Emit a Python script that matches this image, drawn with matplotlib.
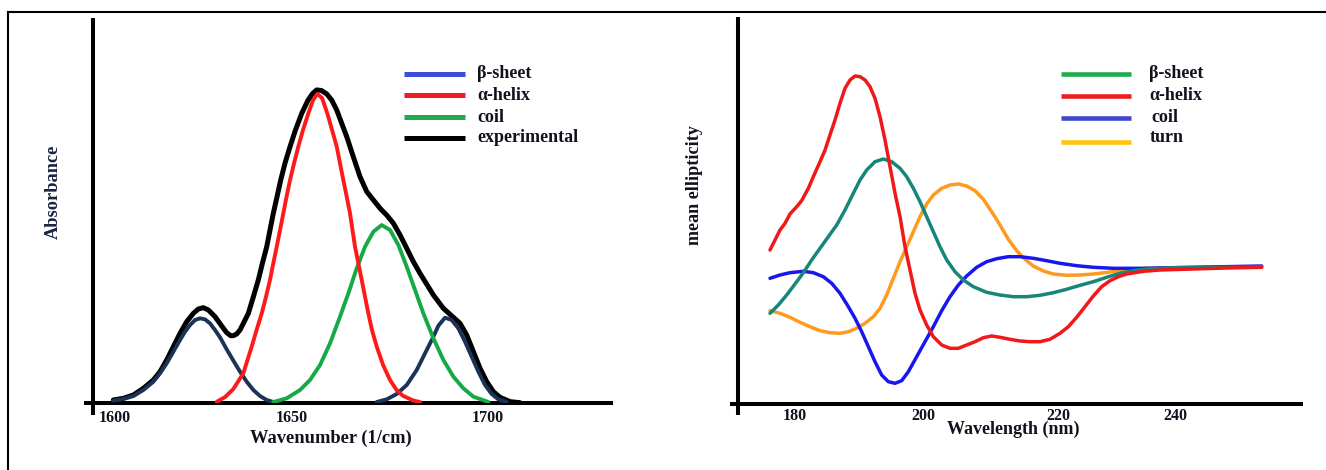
import matplotlib
matplotlib.use('Agg')
import matplotlib.pyplot as plt
from matplotlib.lines import Line2D

plt.rcParams['font.family'] = ['Liberation Serif', 'DejaVu Serif']
plt.rcParams['font.weight'] = 'bold'

# ---------------- Left panel: FTIR amide I deconvolution ----------------
ftir_tick_pos = [1600, 1647.5, 1700]
ftir_tick_labels = ['1600', '1650', '1700']

exp_w = [1599.55, 1602.23, 1604.92, 1607.60, 1610.28, 1612.07, 1613.85, 1615.64, 1617.43, 1619.22,
         1621.00, 1622.34, 1623.68, 1625.02, 1626.81, 1628.60, 1629.94, 1631.01, 1631.73, 1632.62,
         1633.51, 1634.58, 1635.74, 1637.00, 1638.42, 1639.54, 1640.67, 1641.55, 1642.44, 1643.43,
         1644.42, 1645.58, 1646.92, 1648.39, 1650.05, 1651.74, 1652.95, 1654.07, 1655.35, 1656.76,
         1658.10, 1659.44, 1662.12,
         1663.89, 1665.68, 1667.48, 1669.25, 1671.05, 1672.84, 1674.61, 1676.41, 1678.20, 1679.97,
         1681.77, 1685.35, 1688.03, 1690.71, 1692.49, 1694.28, 1696.07, 1697.86, 1699.64, 1701.43,
         1703.22, 1705.90, 1708.58]
exp_a = [0.0107, 0.0160, 0.0268, 0.0483, 0.0752, 0.1020, 0.1397, 0.1827, 0.2257, 0.2633,
         0.2902, 0.3042, 0.3085, 0.3010, 0.2795, 0.2494, 0.2278, 0.2182, 0.2182, 0.2235,
         0.2365, 0.2620, 0.2900, 0.3400, 0.3980, 0.4530, 0.5050, 0.5590, 0.6130, 0.6660,
         0.7200, 0.7750, 0.8280, 0.8820, 0.9350, 0.9780, 0.9990, 1.0110, 1.0090, 0.9980,
         0.9780, 0.9460, 0.8600,
         0.7950, 0.7310, 0.6830, 0.6560, 0.6290, 0.6070, 0.5810, 0.5430, 0.5000, 0.4570,
         0.4190, 0.3493, 0.3063, 0.2773, 0.2579, 0.2203, 0.1666, 0.1128, 0.0698, 0.0375,
         0.0193, 0.0053, 0.0020]

helix_w = [1627.27, 1629.49, 1631.72, 1634.40, 1636.65, 1637.94, 1639.33, 1640.48, 1641.55, 1642.44,
           1643.35, 1644.24, 1645.12, 1645.98, 1646.92, 1647.99, 1649.14, 1650.40, 1651.82, 1653.08,
           1654.24, 1655.50, 1656.92, 1658.18, 1659.44, 1660.32, 1661.21, 1662.12, 1663.00, 1663.67,
           1664.34, 1665.23, 1666.14, 1667.02, 1667.91, 1668.90, 1670.16, 1671.85, 1673.73, 1675.47,
           1677.21, 1679.97, 1681.77]
helix_a = [0.005, 0.020, 0.046, 0.097, 0.183, 0.236, 0.290, 0.344, 0.398, 0.452,
           0.505, 0.559, 0.613, 0.666, 0.720, 0.774, 0.828, 0.882, 0.935, 0.978,
           0.998, 0.985, 0.935, 0.882, 0.828, 0.774, 0.720, 0.666, 0.613, 0.559,
           0.505, 0.452, 0.398, 0.344, 0.290, 0.236, 0.183, 0.124, 0.075, 0.043,
           0.024, 0.009, 0.004]

coil_w = [1642.45, 1646.02, 1649.60, 1652.28, 1654.96, 1657.64, 1660.32, 1662.56, 1664.79, 1667.03,
          1669.26, 1671.49, 1673.73, 1675.96, 1678.20, 1680.43, 1682.66, 1685.35, 1688.03, 1690.71,
          1693.39, 1696.07, 1700.09]
coil_a = [0.0042, 0.0160, 0.0429, 0.0752, 0.1235, 0.1934, 0.2795, 0.3547, 0.4354, 0.5053,
          0.5536, 0.5751, 0.5590, 0.5106, 0.4407, 0.3655, 0.2902, 0.2096, 0.1397, 0.0859,
          0.0483, 0.0214, 0.0042]

sheet1_w = [1599.55, 1602.23, 1604.92, 1607.60, 1610.28, 1612.07, 1613.85, 1615.64, 1617.43, 1618.77,
            1620.11, 1621.45, 1622.79, 1624.13, 1625.47, 1626.81, 1628.15, 1629.94, 1631.73, 1633.51,
            1635.30, 1637.09, 1638.87, 1640.66, 1642.45]
sheet1_a = [0.0085, 0.0139, 0.0235, 0.0429, 0.0698, 0.0966, 0.1289, 0.1665, 0.2042, 0.2310,
            0.2525, 0.2687, 0.2741, 0.2708, 0.2579, 0.2364, 0.2128, 0.1741, 0.1375, 0.1020,
            0.0698, 0.0429, 0.0235, 0.0107, 0.0042]

sheet2_w = [1670.15, 1672.83, 1675.52, 1678.20, 1680.88, 1683.56, 1685.35, 1686.69, 1688.47, 1690.26,
            1692.05, 1693.83, 1695.62, 1697.41, 1699.20, 1700.98, 1702.77, 1705.01]
sheet2_a = [0.0042, 0.0128, 0.0300, 0.0590, 0.1074, 0.1719, 0.2149, 0.2504, 0.2762, 0.2687,
            0.2418, 0.1988, 0.1504, 0.1020, 0.0590, 0.0300, 0.0128, 0.0042]

ftir_legend_labels = ['\u03b2-sheet', '\u03b1-helix', 'coil', 'experimental']
ftir_legend_colors = ['#3b4fd6', '#ee1d23', '#1fad4b', '#000000']

# ---------------- Right panel: CD reference spectra ----------------
cd_tick_pos = [180, 200.35, 221.55, 240]
cd_tick_labels = ['180', '200', '220', '240']

cd_helix_l = [176.12, 176.91, 177.70, 178.49, 179.27, 180.33, 181.11, 182.17, 182.95, 184.01,
              184.80, 185.58, 186.37, 187.16, 187.95, 188.74, 189.53, 190.32, 191.11, 191.89,
              192.68, 193.47, 194.26, 195.05, 195.84, 196.63, 197.41, 198.20, 198.99, 199.78,
              200.83, 201.88, 203.20, 204.51, 205.83, 207.14, 208.45, 209.77, 211.08, 212.40,
              213.98, 215.55, 217.13, 218.71, 220.28, 221.86, 223.18, 224.49, 225.80, 227.12,
              228.43, 229.75, 231.06, 232.38, 235.01, 237.63, 242.89, 248.15, 253.67]
cd_helix_e = [1.73, 2.73, 3.73, 4.40, 5.33, 6.06, 6.66, 7.90, 9.06, 10.56,
              11.73, 13.23, 14.73, 16.40, 17.90, 18.73, 19.13, 19.06, 18.73, 18.06,
              16.90, 15.06, 12.73, 10.06, 7.40, 5.06, 2.06, -0.27, -2.60, -4.27,
              -5.77, -6.94, -7.77, -8.10, -8.10, -7.77, -7.44, -7.04, -6.87, -7.00,
              -7.20, -7.37, -7.44, -7.44, -7.20, -6.60, -5.94, -5.00, -3.94, -2.87,
              -1.94, -1.34, -0.94, -0.67, -0.40, -0.27, -0.17, -0.07, 0.00]

cd_sheet_l = [176.12, 177.43, 178.75, 180.06, 181.38, 182.69, 184.01, 185.32, 186.64, 187.95,
              189.26, 190.32, 191.37, 192.68, 194.00, 195.31, 196.63, 197.68, 198.73, 199.78,
              200.83, 201.88, 202.93, 203.99, 205.30, 206.61, 208.19, 210.29, 212.40, 214.50,
              216.60, 218.71, 220.81, 222.91, 225.02, 227.12, 229.22, 231.33, 233.43, 236.06,
              240.26, 253.67]
cd_sheet_e = [-4.60, -3.77, -2.77, -1.67, -0.54, 0.73, 1.90, 3.06, 4.23, 5.73,
              7.40, 8.73, 9.73, 10.56, 10.83, 10.56, 9.90, 9.06, 7.90, 6.56,
              5.06, 3.56, 2.06, 0.73, -0.44, -1.27, -1.94, -2.50, -2.77, -2.94,
              -2.94, -2.80, -2.54, -2.20, -1.80, -1.44, -1.00, -0.60, -0.34, -0.14,
              -0.04, 0.03]

cd_coil_l = [176.12, 177.70, 179.27, 181.38, 182.95, 184.53, 185.85, 187.16, 188.48, 189.53,
             190.58, 191.63, 192.68, 193.73, 194.78, 195.84, 196.89, 197.94, 199.25, 200.57,
             201.88, 203.20, 204.51, 205.83, 207.14, 208.72, 210.29, 211.87, 213.71, 215.55,
             217.65, 219.76, 221.86, 224.49, 227.12, 230.27, 235.01, 242.89, 253.67]
cd_coil_e = [-1.10, -0.77, -0.54, -0.40, -0.54, -0.94, -1.60, -2.60, -3.94, -5.10,
             -6.44, -7.94, -9.44, -10.77, -11.44, -11.60, -11.34, -10.44, -8.94, -7.44,
             -5.94, -4.34, -2.94, -1.77, -0.87, 0.00, 0.56, 0.86, 1.06, 1.06,
             0.90, 0.66, 0.40, 0.16, 0.00, -0.10, -0.10, 0.00, 0.13]

cd_turn_l = [176.12, 177.70, 179.27, 180.85, 182.43, 184.01, 185.58, 187.16, 188.48, 189.79,
             191.11, 192.42, 193.47, 194.52, 195.57, 196.63, 197.68, 198.73, 199.78, 200.83,
             201.88, 203.20, 204.51, 205.83, 207.14, 208.45, 209.77, 211.08, 212.40, 213.71,
             215.03, 216.34, 217.65, 219.23, 220.81, 222.91, 225.02, 227.12, 229.75, 232.38,
             235.53, 240.26, 253.67]
cd_turn_e = [-4.34, -4.60, -5.00, -5.50, -5.94, -6.34, -6.54, -6.60, -6.44, -6.10,
             -5.60, -4.94, -4.10, -2.77, -1.10, 0.56, 2.06, 3.56, 5.06, 6.33,
             7.23, 7.90, 8.23, 8.33, 8.13, 7.66, 6.80, 5.56, 4.23, 2.80,
             1.66, 0.80, 0.13, -0.37, -0.67, -0.80, -0.77, -0.67, -0.47, -0.27,
             -0.10, -0.04, 0.03]

cd_legend_labels = ['\u03b2-sheet', '\u03b1-helix', 'coil', 'turn']
cd_legend_colors = ['#1fad4b', '#ee1d23', '#3f48cc', '#ffc20e']

# ---------------- Figure ----------------
W, H = 1326, 470
fig = plt.figure(figsize=(W / 100, H / 100), dpi=100)


def fx(x):
    return x / W


def fy(y):
    return 1 - y / H


TXT = '#10121e'
RJ = dict(solid_joinstyle='round', solid_capstyle='round')

# frame lines
fig.add_artist(Line2D([fx(8), fx(1326)], [fy(12), fy(12)], transform=fig.transFigure,
                      color='black', lw=1.5))
fig.add_artist(Line2D([fx(8), fx(8)], [fy(12), fy(470)], transform=fig.transFigure,
                      color='black', lw=1.5))

# ---- left axes
ax1 = fig.add_axes([fx(93), fy(403.3), fx(613) - fx(93), fy(18) - fy(403.3)])
ax1.set_xlim(1594.1, 1733.5)
ax1.set_ylim(0, 1.243)
for s in ax1.spines.values():
    s.set_visible(False)
ax1.plot(exp_w, exp_a, color='black', lw=3.6, zorder=2, **RJ)
ax1.plot(sheet1_w, sheet1_a, color='#1b3356', lw=2.8, zorder=3, **RJ)
ax1.plot(sheet2_w, sheet2_a, color='#1b3356', lw=2.8, zorder=3, **RJ)
ax1.plot(coil_w, coil_a, color='#15aa45', lw=2.8, zorder=3, **RJ)
ax1.plot(helix_w, helix_a, color='#ff1a1a', lw=2.8, zorder=3, **RJ)
ax1.set_yticks([])
ax1.set_xticks(ftir_tick_pos, ftir_tick_labels)
ax1.tick_params(axis='x', length=0, pad=4.5, labelsize=11.5, labelcolor=TXT)
ax1.plot([0, 0], [1, -0.031], transform=ax1.transAxes, clip_on=False, color='black',
         lw=2.9, solid_capstyle='butt')
ax1.plot([-0.0173, 1], [0, 0], transform=ax1.transAxes, clip_on=False, color='black',
         lw=2.9, solid_capstyle='butt')

# ---- right axes
ax2 = fig.add_axes([fx(738), fy(403.5), fx(1303) - fx(738), fy(17) - fy(403.5)])
ax2.set_xlim(171.07, 260.19)
ax2.set_ylim(-13.62, 25.03)
for s in ax2.spines.values():
    s.set_visible(False)
ax2.plot(cd_turn_l, cd_turn_e, color='#ff9a1e', lw=2.5, zorder=3, **RJ)
ax2.plot(cd_coil_l, cd_coil_e, color='#1818ee', lw=2.5, zorder=3, **RJ)
ax2.plot(cd_sheet_l, cd_sheet_e, color='#16867a', lw=2.5, zorder=3, **RJ)
ax2.plot(cd_helix_l, cd_helix_e, color='#f01818', lw=2.5, zorder=3, **RJ)
ax2.set_yticks([])
ax2.set_xticks(cd_tick_pos, cd_tick_labels)
ax2.tick_params(axis='x', length=0, pad=3.5, labelsize=11.5, labelcolor=TXT)
ax2.plot([0, 0], [1, -0.030], transform=ax2.transAxes, clip_on=False, color='black',
         lw=2.9, solid_capstyle='butt')
ax2.plot([-0.0142, 1], [0, 0], transform=ax2.transAxes, clip_on=False, color='black',
         lw=2.9, solid_capstyle='butt')

# ---- axis titles
fig.text(fx(331), fy(442.5), 'Wavenumber (1/cm)', ha='center', va='baseline',
         fontsize=13.3, fontweight='bold', color=TXT)
fig.text(fx(1013), fy(433.5), 'Wavelength (nm)', ha='center', va='baseline',
         fontsize=13, fontweight='bold', color=TXT)
fig.text(fx(58), fy(192), 'Absorbance', ha='center', va='baseline', rotation=90,
         rotation_mode='anchor', fontsize=13.2, fontweight='bold', color='#1a2440')
fig.text(fx(699), fy(185), 'mean ellipticity', ha='center', va='baseline', rotation=90,
         rotation_mode='anchor', fontsize=13.1, fontweight='bold', color=TXT)

# ---- legends (drawn in figure pixel space)
left_rows = [74, 95, 117, 138]
left_base = [78.5, 100.5, 121.5, 141.5]
for lab, col, yl, yb in zip(ftir_legend_labels, ftir_legend_colors, left_rows, left_base):
    fig.add_artist(Line2D([fx(404), fx(465)], [fy(yl), fy(yl)], transform=fig.transFigure,
                          color=col, lw=3.6, solid_capstyle='butt'))
    fig.text(fx(477), fy(yb), lab, ha='left', va='baseline', fontsize=13,
             fontweight='bold', color=TXT)

right_rows = [74, 95.7, 118.3, 142]
right_base = [78.3, 100, 122, 141.7]
right_tx = [1149, 1149, 1151, 1150]
for lab, col, yl, yb, tx in zip(cd_legend_labels, cd_legend_colors, right_rows, right_base, right_tx):
    fig.add_artist(Line2D([fx(1061), fx(1131)], [fy(yl), fy(yl)], transform=fig.transFigure,
                          color=col, lw=3.3, solid_capstyle='butt'))
    fig.text(fx(tx), fy(yb), lab, ha='left', va='baseline', fontsize=13,
             fontweight='bold', color=TXT)

fig.savefig('out.png', dpi=100)
